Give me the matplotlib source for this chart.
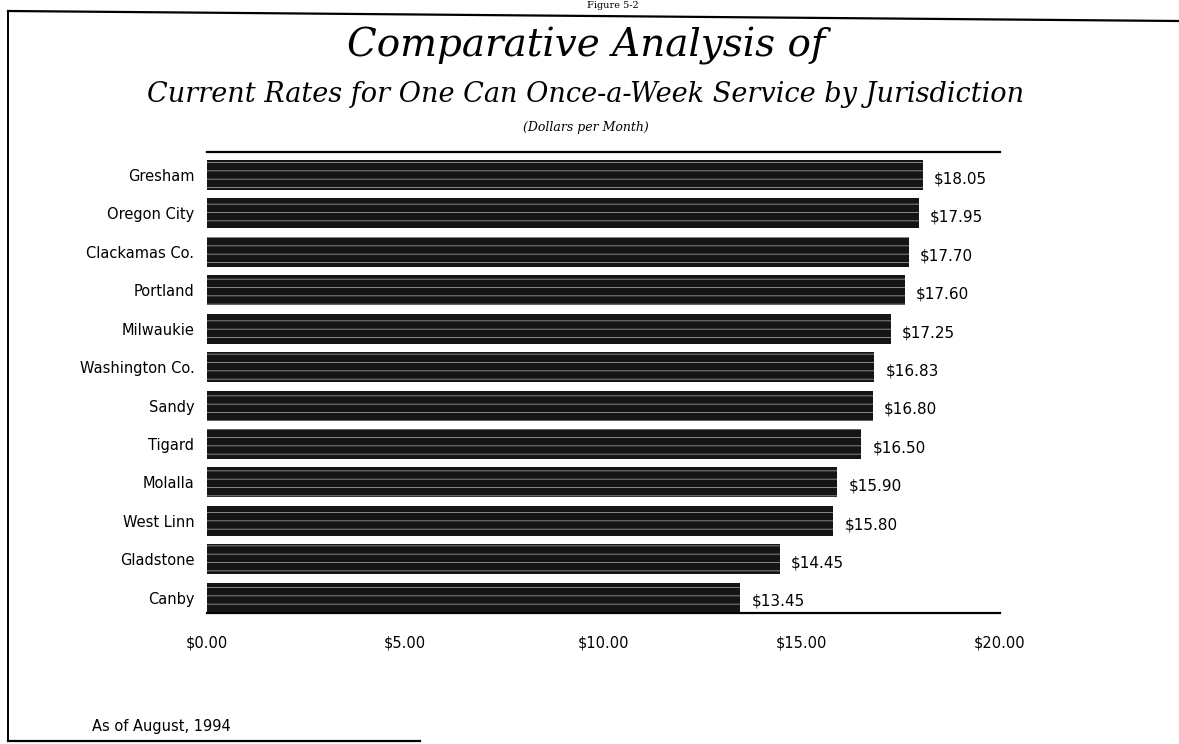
import matplotlib.pyplot as plt
import matplotlib as mpl
import numpy as np
from matplotlib.lines import Line2D

# data
places = ['Gresham', 'Oregon City', 'Clackamas Co.', 'Portland', 'Milwaukie',
          'Washington Co.', 'Sandy', 'Tigard', 'Molalla', 'West Linn',
          'Gladstone', 'Canby']
rates = [18.05, 17.95, 17.70, 17.60, 17.25, 16.83, 16.80, 16.50, 15.90, 15.80,
         14.45, 13.45]
xticks = [0, 5, 10, 15, 20]

mpl.rcParams['hatch.linewidth'] = 0.6
sans = 'DejaVu Sans'

fig = plt.figure(figsize=(11.79, 7.44), dpi=100)
ax = fig.add_axes([207 / 1179, 1 - 613 / 744, 793 / 1179, 461 / 744])

y = np.arange(len(places))
ax.barh(y, rates, height=0.78, color='#151515', edgecolor='#9a9a9a',
        linewidth=0, hatch='--')
for yi, v in zip(y, rates):
    ax.text(v + 0.28, yi + 0.1, '$%.2f' % v, va='center', ha='left',
            fontsize=11, family=sans)

ax.set_xlim(0, 20)
ax.set_ylim(len(places) - 0.6, -0.6)
ax.set_yticks(y)
ax.set_yticklabels(places, fontsize=10.5, family=sans)
ax.set_xticks(xticks)
ax.set_xticklabels(['$%.2f' % t for t in xticks], fontsize=10.5, family=sans)
ax.tick_params(length=0)
ax.tick_params(axis='x', pad=16)
ax.tick_params(axis='y', pad=9)
for s in ['left', 'right']:
    ax.spines[s].set_visible(False)
for s in ['top', 'bottom']:
    ax.spines[s].set_linewidth(1.6)

# titles
fig.text(0.497, 0.938, 'Comparative Analysis of', ha='center', va='center',
         fontsize=28, style='italic', family='DejaVu Serif')
fig.text(0.497, 0.873, 'Current Rates for One Can Once-a-Week Service by Jurisdiction',
         ha='center', va='center', fontsize=19.5, style='italic', family='DejaVu Serif')
fig.text(0.497, 0.828, '(Dollars per Month)', ha='center', va='center',
         fontsize=9, style='italic', family='DejaVu Serif')
fig.text(0.078, 0.024, 'As of August, 1994', ha='left', va='center',
         fontsize=10.5, family=sans)
fig.text(0.52, 0.999, 'Figure 5-2', ha='center', va='top', fontsize=7,
         family='DejaVu Serif')

# page frame of the scan
fig.add_artist(Line2D([8 / 1179, 1.0], [1 - 11 / 744, 1 - 21 / 744],
                      transform=fig.transFigure, color='black', lw=1.6))
fig.add_artist(Line2D([8 / 1179, 8 / 1179], [1 - 11 / 744, 1 - 741 / 744],
                      transform=fig.transFigure, color='black', lw=1.4))
fig.add_artist(Line2D([8 / 1179, 420 / 1179], [1 - 741 / 744, 1 - 741 / 744],
                      transform=fig.transFigure, color='black', lw=1.6))

fig.savefig('out.png', dpi=100)
